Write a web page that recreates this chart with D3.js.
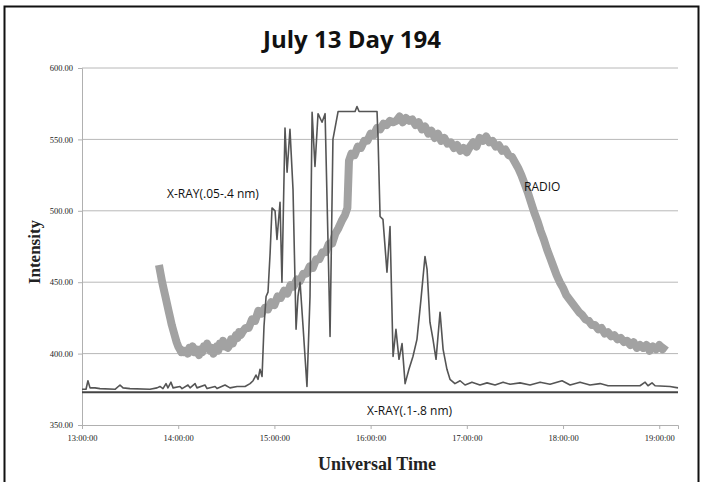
<!DOCTYPE html>
<html><head><meta charset="utf-8">
<script src="https://cdn.jsdelivr.net/npm/d3@7"></script>
<style>body{margin:0;background:#fff}svg{display:block}</style>
</head><body>
<svg id="c" width="704" height="482"></svg>
<script>
// minutes after 13:00:00 UT
const yTicks = [350, 400, 450, 500, 550, 600];
const xTickHours = ["13:00:00","14:00:00","15:00:00","16:00:00","17:00:00","18:00:00","19:00:00"];

const radioMin = [48,49,50,51,52,53,54,55,56,57,58,59,60,61,62,63,64,65,66,67,68,69,70,71,72,73,74,75,76,77,78,79,80,81,82,83,84,85,86,87,88,89,90,91,92,93,94,95,96,97,98,99,100,102,104,106,108,110,112,114,116,118,120,122,124,126,128,130,132,134,136,138,140,142,144,146,148,150,152,154,156,158,160,162,164,165.5,166.5,168,170,172,174,176,178,180,182,184,186,188,190,192,194,196,198,200,202,204,206,208,210,212,214,216,218,220,222,224,226,228,230,232,234,236,238,240,242,244,246,248,250,252,254,256,258,260,262,264,266,268,270,272,274,276,278,280,282,284,286,288,290,292,294,296,298,300,302,304,306,308,310,312,314,316,318,320,322,324,326,328,330,332,334,336,338,340,342,344,346,348,350,352,354,356,358,360,362,364,366,368,370,372];
const radioVal = [462,456,450,445,440,435,430,425,420,416,412,408,405,403,401,402,401,402,400,404,403,405,401,403,401,399,403,401,405,404,407,404,402,404,400,403,405,402,407,405,409,405,407,404,406,410,407,410,413,411,415,413,415,418,418,424,423,430,428,432,431,436,434,440,439,444,442,448,447,452,451,456,456,461,460,466,466,471,471,477,477,484,488,493,497,502,535,540,539,545,544,549,549,554,553,558,557,561,560,563,562,563,566,562,565,563,564,560,562,557,559,554,556,551,554,549,551,547,548,544,546,542,544,541,545,548,545,551,549,552,548,549,545,546,542,543,539,538,534,530,525,519,513,506,499,493,486,480,473,467,461,455,450,446,441,438,435,432,429,427,424,423,420,420,417,418,414,415,412,413,410,411,408,409,406,408,404,406,404,406,402,405,403,406,403,406];

const xrayMin = [0,2.5,3.7,5,8.1,11.2,20.6,23.7,25.6,29.9,42.4,46.8,48.6,50.5,52.4,53.6,55.5,56.8,61.1,62.4,66.1,67.4,70.5,71.7,76.7,78,83,84.2,89.2,92.3,96.7,101.7,104.8,106.7,108.5,109.8,111,112.3,113.5,114.8,116,117.3,118.5,120.4,121.6,123.5,124.7,126.6,127.9,129.7,131.6,133.5,134.7,136,137.8,140.3,142.2,143.5,145.3,147.2,149.7,151.6,153.4,154.7,156.5,159.7,170.3,171.5,172.8,184,184.6,185.9,187.7,190.2,192.1,194,195.8,197.7,199.6,201.5,203.9,206.4,208.9,211.4,213.9,215.2,217,218.9,220.8,223.3,225.2,227.6,229.5,232.6,235.8,238.9,243.2,248.2,252.6,257.6,262.6,267,273.2,279.4,285.7,291.9,299.4,304.4,310.6,316.8,323.1,328.1,338.7,348,351.2,353,355.5,357.4,366.7,371.7];
const xrayVal = [375,375,381,376,376,375.5,375,378,376,375.5,375,376,377,375.5,379,376,380,376,377,375.5,378,376,379,376,378,375.5,377,375.5,378,376,377,377,379,381,385,382,389,384,419,440,443,470,502,500,480,506,450,558,527,557,515,417,440,450,420,377,440,569,531,568,562,568,480,412,550,569.5,569.5,573,569.5,569.5,552,496,494,457,489,398,417,396,407,379,389,398,410,438,468,459,422,410,396,429,403,389,382,379,381,378,380,378,379.5,378,380,378.5,379.5,378,380,378.5,381,378,380,378,379,377.5,377.5,377.5,380,377.5,379.5,377.5,377,376];

const flatMin = [0, 371.7];
const flatVal = [373, 373];

const svg = d3.select("#c");
const base = new Date(2010, 6, 13, 13, 0, 0);
const t = m => new Date(base.getTime() + m * 60000);

const x = d3.scaleTime().domain([t(0), t(371.7)]).range([82, 678]);
const y = d3.scaleLinear().domain([350, 600]).range([425, 68]);

// frame
svg.append("rect").attr("x", 4.5).attr("y", 6.5).attr("width", 694).attr("height", 500)
  .attr("fill", "none").attr("stroke", "#111").attr("stroke-width", 2);

// gridlines
svg.append("g").selectAll("line").data(yTicks.filter(v => v > 350)).join("line")
  .attr("x1", 82).attr("x2", 678).attr("y1", d => y(d)).attr("y2", d => y(d))
  .attr("stroke", "#b8b8b8").attr("stroke-width", 1);

// y axis
const ya = svg.append("g").attr("transform", "translate(82,0)")
  .call(d3.axisLeft(y).tickValues(yTicks).tickFormat(d3.format(".2f")).tickSize(4));
ya.select(".domain").attr("stroke", "#b0b0b0");
ya.selectAll(".tick line").attr("stroke", "#b0b0b0");
ya.selectAll("text").attr("font-family", "Liberation Serif").attr("font-size", 8.5).attr("fill", "#222").attr("dx", -2);

// x axis
const parseH = d3.timeParse("%Y-%m-%d %H:%M:%S");
const xTickDates = xTickHours.map(s => parseH("2010-07-13 " + s));
const xa = svg.append("g").attr("transform", "translate(0,425)")
  .call(d3.axisBottom(x).tickValues(xTickDates).tickFormat(d3.timeFormat("%H:%M:%S")).tickSize(4));
xa.select(".domain").attr("stroke", "#b0b0b0");
xa.selectAll(".tick line").attr("stroke", "#b0b0b0");
xa.selectAll("text").attr("font-family", "Liberation Serif").attr("font-size", 8.5).attr("fill", "#222").attr("dy", "1.1em");

const line = d3.line().x(d => x(t(d[0]))).y(d => y(d[1]));

// radio
svg.append("path").datum(d3.zip(radioMin, radioVal)).attr("d", line)
  .attr("fill", "none").attr("stroke", "#a2a2a2").attr("stroke-width", 8).attr("stroke-linejoin", "round");

// flat x-ray .1-.8
svg.append("path").datum(d3.zip(flatMin, flatVal)).attr("d", line)
  .attr("fill", "none").attr("stroke", "#444").attr("stroke-width", 2);

// x-ray .05-.4
svg.append("path").datum(d3.zip(xrayMin, xrayVal)).attr("d", line)
  .attr("fill", "none").attr("stroke", "#555").attr("stroke-width", 1.6).attr("stroke-linejoin", "round");

// title
svg.append("text").attr("x", 352).attr("y", 48).attr("text-anchor", "middle")
  .attr("font-family", "Open Sans").attr("font-weight", "bold").attr("font-size", 24).attr("fill", "#111")
  .text("July 13 Day 194");

// axis titles
svg.append("text").attr("transform", "translate(40,252) rotate(-90)").attr("text-anchor", "middle")
  .attr("font-family", "Liberation Serif").attr("font-weight", "bold").attr("font-size", 17).attr("fill", "#222")
  .text("Intensity");
svg.append("text").attr("x", 377).attr("y", 470).attr("text-anchor", "middle")
  .attr("font-family", "Liberation Serif").attr("font-weight", "bold").attr("font-size", 18).attr("fill", "#222")
  .text("Universal Time");

// annotations
const ann = [["X-RAY(.05-.4 nm)", 167, 198], ["RADIO", 524, 191], ["X-RAY(.1-.8 nm)", 367, 415]];
svg.append("g").selectAll("text").data(ann).join("text")
  .attr("x", d => d[1]).attr("y", d => d[2])
  .attr("font-family", "Open Sans").attr("font-size", 12).attr("fill", "#111")
  .text(d => d[0]);
</script>
</body></html>
